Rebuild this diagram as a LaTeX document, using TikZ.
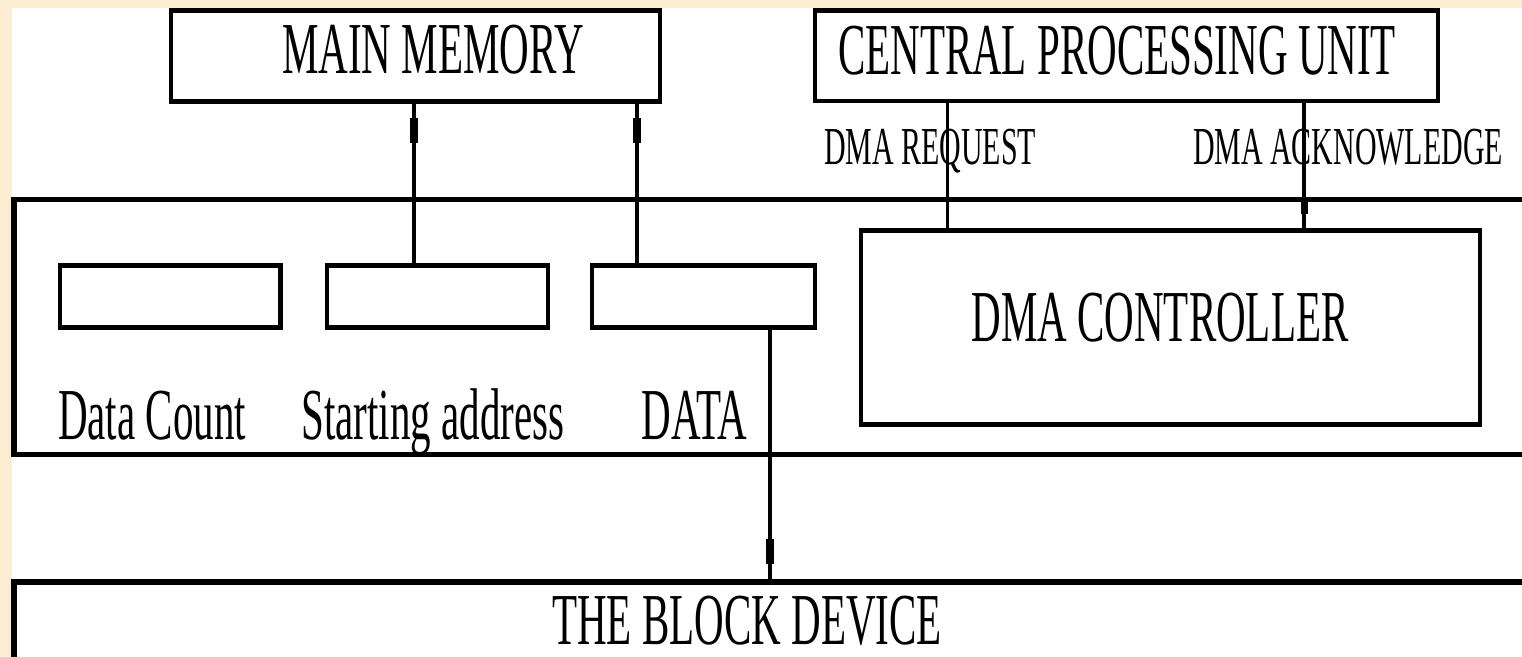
\documentclass[tikz,border=0pt]{standalone}
\usepackage{fontspec}
\usepackage{xcolor}
\usepackage{tikz}
\usetikzlibrary{positioning, fit, calc}

\newfontfamily\dmafont{Liberation Serif}[FakeStretch=0.56]
\definecolor{slidebg}{RGB}{251,237,210}

\begin{document}
\begin{tikzpicture}[
    x=0.5pt, y=-0.5pt,
    font=\dmafont\fontsize{36.6}{40}\selectfont,
    box/.style={draw, line width=2.4pt, inner sep=0pt},
    bus/.style={draw, line width=2.9pt, inner sep=0pt},
    reg/.style={draw, line width=2.3pt, inner sep=0pt},
    lbl/.style={inner sep=0pt, anchor=base},
    sig/.style={lbl, font=\dmafont\fontsize{26.7}{30}\selectfont},
    wire/.style={line width=1.7pt},
    plug/.style={fill, inner sep=0pt, minimum width=4pt, minimum height=12.5pt},
  ]
  \useasboundingbox (0,0) rectangle (1522,657);
  \clip (0,0) rectangle (1522,657);
  \fill[slidebg] (0,0) rectangle (1522,657);
  \fill[white] (12,8) rectangle (1522,657);

  % memory and processor on top
  \node[box, fit={(171,10.5) (660,101.5)}] (mem) {};
  \node[box, fit={(815,10.5) (1438,101)}] (cpu) {};
  \node[lbl] (memname) at (433,74) {MAIN MEMORY};
  \node[lbl] (cpuname) at (1117,75) {CENTRAL PROCESSING UNIT};

  % the DMA side, open to the right
  \node[bus, fit={(14,199.5) (1560,454.5)}] (dma) {};
  \node[reg, fit={(60,265.5) (280.5,327.5)}] (cnt) {};
  \node[reg, fit={(327,265.5) (548,327.5)}] (adr) {};
  \node[reg, fit={(592,265.5) (815,327.5)}] (dat) {};
  \node[box, fit={(861,230.5) (1480,424.5)}] (ctrl) {};
  \node[lbl] (ctrlname) at (1160,342) {DMA CONTROLLER};
  \node[lbl] (cntname) at (152,440) {Data Count};
  \node[lbl] (adrname) at (433,440) {Starting address};
  \node[lbl] (datname) at (694.5,440) {DATA};

  % device at the bottom
  \node[bus, fit={(14,582) (1560,720)}] (dev) {};
  \node[lbl] (devname) at (747,645) {THE BLOCK DEVICE};

  % signals between cpu and controller
  \node[sig] (reqname) at (930,165) {DMA REQUEST};
  \node[sig] (ackname) at (1348,165) {DMA ACKNOWLEDGE};

  \draw[wire] ([xshift=-11.75pt]adr.north) -- ([xshift=-11.75pt]adr.north |- mem.south)
    node[pos=0.83, plug] {};
  \draw[wire] ([xshift=-33.25pt]dat.north) -- ([xshift=-33.25pt]dat.north |- mem.south)
    node[pos=0.83, plug] {};
  \draw[wire] ([xshift=33.25pt]dat.south) -- ([xshift=33.25pt]dat.south |- dev.north)
    node[pos=0.89, plug] {};
  \draw[wire] ([xshift=-89.5pt]cpu.south) -- ([xshift=-89.5pt]cpu.south |- ctrl.north);
  \draw[wire] ([xshift=88.75pt]cpu.south) -- ([xshift=88.75pt]cpu.south |- ctrl.north)
    node[pos=0.82, plug, minimum width=3.5pt, minimum height=8pt] {};
\end{tikzpicture}
\end{document}
